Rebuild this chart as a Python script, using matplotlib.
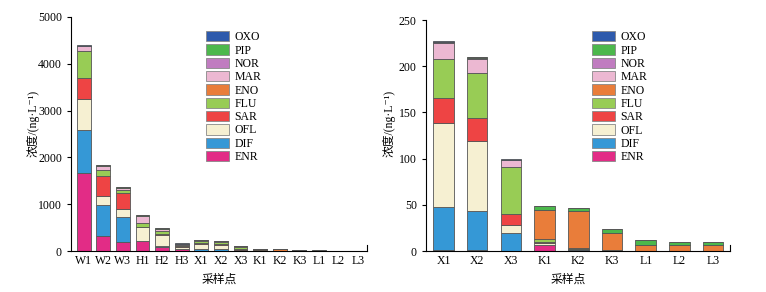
import numpy as np
from matplotlib import pyplot as plt

plt.rcParams['font.family'] = ['Liberation Serif', 'Noto Sans CJK SC', 'DejaVu Sans']

# 数据 (ng/L)
compounds = ['ENR', 'DIF', 'OFL', 'SAR', 'FLU', 'ENO', 'MAR', 'NOR', 'PIP', 'OXO']
colors = ['#e22c86', '#3598d6', '#f6f0d2', '#ee4444', '#98cc55',
          '#e97d3a', '#ecb8d2', '#c07cc0', '#4cb84c', '#2e5aac']

sites_all = ['W1', 'W2', 'W3', 'H1', 'H2', 'H3', 'X1', 'X2', 'X3',
             'K1', 'K2', 'K3', 'L1', 'L2', 'L3']
sites_sub = ['X1', 'X2', 'X3', 'K1', 'K2', 'K3', 'L1', 'L2', 'L3']

ENR = [1676, 328, 185, 214, 90, 35, 1, 1, 0.5, 6.5, 1.5, 0.5, 0, 0, 0]
DIF = [913, 650, 550, 5, 10, 10, 47, 42, 19.5, 0, 0.3, 0, 0, 0, 0]
OFL = [656, 200, 157, 290, 245, 45, 91, 76, 8, 2.5, 0.3, 0, 0, 0, 0]
SAR = [450, 435, 342, 5, 10, 10, 27, 25, 11.7, 0.5, 0, 0, 0, 0, 0]
FLU = [570, 128, 80, 80, 70, 35, 42, 48.5, 50.8, 3, 1.5, 0.5, 0, 0, 0]
ENO = [0, 0, 0, 0, 0, 0, 0, 0, 0, 31.5, 39.5, 18, 7, 6, 6]
MAR = [107, 70, 30, 150, 40, 15, 17, 15, 7.5, 0, 0, 0, 0, 0, 0]
NOR = [10, 15, 10, 10, 15, 5, 1, 1.5, 0.5, 0, 0, 0, 0, 0, 0]
PIP = [5, 10, 10, 5, 10, 5, 0.5, 0.5, 0.3, 4.5, 3.5, 4.5, 4.5, 3.5, 4]
OXO = [10, 10, 5, 5, 5, 4, 0.5, 0.5, 0.3, 0.5, 0, 0, 0, 0, 0]

data = np.array([ENR, DIF, OFL, SAR, FLU, ENO, MAR, NOR, PIP, OXO])


def stacked(ax, sites, width, leg_pos):
    idx = [sites_all.index(s) for s in sites]
    x = np.arange(len(sites))
    bottom = np.zeros(len(sites))
    handles = []
    for name, c, row in zip(compounds, colors, data):
        vals = row[idx]
        h = ax.bar(x, vals, width, bottom=bottom, color=c, edgecolor='#555555',
                   linewidth=0.6, label=name)
        bottom += vals
        handles.append(h)
    ax.set_xticks(x)
    ax.set_xticklabels(sites)
    ax.tick_params(axis='x', length=0, pad=3, labelsize=8.5)
    ax.tick_params(axis='y', direction='out', length=3, width=0.8, labelsize=8.5)
    ax.yaxis.tick_left()
    ax.spines['top'].set_visible(False)
    for sp in ax.spines.values():
        sp.set_linewidth(0.8)
    ax.set_xlabel('采样点', size=8.5)
    ax.set_ylabel('浓度/(ng·L⁻¹)', size=8.5)
    leg = ax.legend(handles[::-1], compounds[::-1], frameon=False, fontsize=8.5,
                    loc='upper left', bbox_to_anchor=leg_pos,
                    handlelength=1.95, handleheight=0.95, labelspacing=0.1,
                    handletextpad=0.45, borderpad=0, borderaxespad=0)
    for p in leg.get_patches():
        p.set_edgecolor('#888888')
    return ax


fig = plt.figure(figsize=(7.66, 2.92), dpi=100)

ax1 = fig.add_axes([0.0927, 0.1404, 0.3863, 0.8014])
stacked(ax1, sites_all, 0.7, (0.456, 0.94))
ax1.set_ylim(0, 5000)
ax1.set_yticks([0, 1000, 2000, 3000, 4000, 5000])
ax1.set_xlim(-0.65, 14.45)
ax1.spines['right'].set_bounds(0, 130)
ax1.yaxis.set_label_coords(-0.105, 0.547)
ax1.xaxis.set_label_coords(0.5, -0.095)

ax2 = fig.add_axes([0.556, 0.1404, 0.397, 0.7911])
stacked(ax2, sites_sub, 0.61, (0.546, 0.952))
ax2.set_ylim(0, 250)
ax2.set_yticks([0, 50, 100, 150, 200, 250])
ax2.set_xlim(-0.52, 8.5)
ax2.spines['right'].set_bounds(0, 6.5)
ax2.yaxis.set_label_coords(-0.099, 0.554)
ax2.xaxis.set_label_coords(0.467, -0.097)

plt.savefig('out.png', dpi=100)
